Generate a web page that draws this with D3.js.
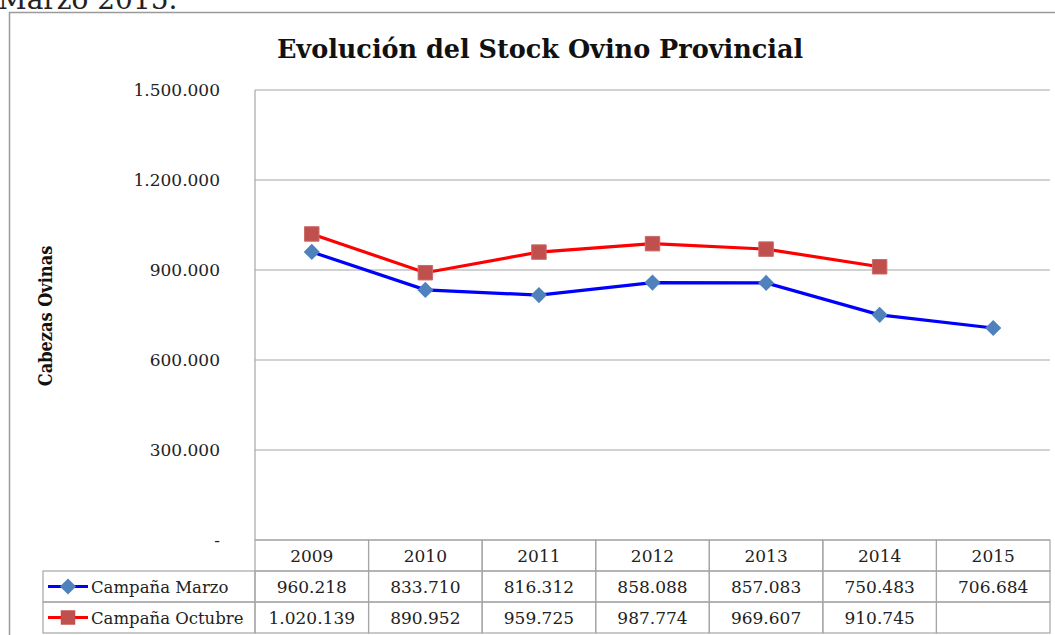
<!DOCTYPE html>
<html>
<head>
<meta charset="utf-8">
<script src="https://cdn.jsdelivr.net/npm/d3@7"></script>
<style>
  body { margin: 0; background: #fff; }
  svg { display: block; font-family: "DejaVu Serif", serif; }
</style>
</head>
<body>
<div id="chart"></div>
<script>
// data
var years = ["2009", "2010", "2011", "2012", "2013", "2014", "2015"]
var marzo = [960218, 833710, 816312, 858088, 857083, 750483, 706684]
var octubre = [1020139, 890952, 959725, 987774, 969607, 910745, null]
var seriesNames = ["Campaña Marzo", "Campaña Octubre"]
var yTicks = [0, 300000, 600000, 900000, 1200000, 1500000]

var width = 1055
var height = 635

var plotLeft = 255, plotRight = 1050, plotTop = 90, plotBottom = 540
var rowH = 31

var esFormat = d3.formatLocale({ decimal: ",", thousands: ".", grouping: [3], currency: ["$", ""] }).format(",.0f")
function fmt (v) { return v === 0 ? "-" : esFormat(v) }

var svg = d3.select('#chart').append('svg')
    .attr('width', width)
    .attr('height', height)

// caption from the page above, cut off at the top as in the source
svg.append('text')
    .attr('x', -2).attr('y', 9)
    .style('font-size', '28px')
    .attr('fill', '#222')
    .text('Marzo 2015.')

// outer chart border
svg.append('rect')
    .attr('x', 9.5).attr('y', 12.5)
    .attr('width', 1060).attr('height', 640)
    .attr('fill', 'none')
    .attr('stroke', '#9a9a9a')
    .attr('stroke-width', 1.5)

svg.append('text')
    .attr('x', 540).attr('y', 58)
    .attr('text-anchor', 'middle')
    .style('font-size', '25.5px')
    .style('font-weight', 'bold')
    .attr('fill', '#111')
    .text('Evolución del Stock Ovino Provincial')

var xScale = d3.scaleBand().domain(years).range([plotLeft, plotRight])
var yScale = d3.scaleLinear().domain([0, 1500000]).range([plotBottom, plotTop])

// grid
svg.append('g').selectAll('line')
    .data(yTicks)
    .enter().append('line')
    .attr('x1', plotLeft).attr('x2', plotRight)
    .attr('y1', d => yScale(d)).attr('y2', d => yScale(d))
    .attr('stroke', '#a6a6a6').attr('stroke-width', 1.2)

svg.append('line')
    .attr('x1', plotLeft).attr('x2', plotLeft)
    .attr('y1', plotTop).attr('y2', plotBottom)
    .attr('stroke', '#a6a6a6').attr('stroke-width', 1.2)

// y axis labels
svg.append('g').selectAll('text')
    .data(yTicks)
    .enter().append('text')
    .attr('x', 220)
    .attr('y', d => yScale(d) + 6)
    .attr('text-anchor', 'end')
    .style('font-size', '17px')
    .attr('fill', '#222')
    .text(fmt)

svg.append('text')
    .attr('transform', 'translate(52,316) rotate(-90)')
    .attr('text-anchor', 'middle')
    .style('font-size', '18px')
    .style('font-weight', 'bold')
    .style('font-family', '"DejaVu Serif Condensed", "DejaVu Serif", serif')
    .attr('fill', '#111')
    .text('Cabezas Ovinas')

// lines
var cx = d => xScale(d) + xScale.bandwidth() / 2
var line = d3.line()
    .defined(d => d.v != null)
    .x(d => cx(d.year))
    .y(d => yScale(d.v))

var marzoPts = years.map((y, i) => ({ year: y, v: marzo[i] }))
var octPts = years.map((y, i) => ({ year: y, v: octubre[i] })).filter(d => d.v != null)

svg.append('path').datum(octPts)
    .attr('d', line)
    .attr('fill', 'none').attr('stroke', '#ff0000').attr('stroke-width', 3.2)
svg.append('path').datum(marzoPts)
    .attr('d', line)
    .attr('fill', 'none').attr('stroke', '#0000ff').attr('stroke-width', 3.2)

var square = d3.symbol().type(d3.symbolSquare).size(210)
var diamond = d3.symbol().type(d3.symbolSquare).size(130)

svg.append('g').selectAll('path')
    .data(octPts).enter().append('path')
    .attr('d', square)
    .attr('transform', d => `translate(${cx(d.year)},${yScale(d.v)})`)
    .attr('fill', '#c0504d').attr('stroke', '#c96b68').attr('stroke-width', 1)

svg.append('g').selectAll('path')
    .data(marzoPts).enter().append('path')
    .attr('d', diamond)
    .attr('transform', d => `translate(${cx(d.year)},${yScale(d.v)}) rotate(45)`)
    .attr('fill', '#4f81bd')

// data table
var table = svg.append('g')
var gridColor = '#a6a6a6'
var legendLeft = 43

table.selectAll('.hcell')
    .data(years).enter().append('rect')
    .attr('x', d => xScale(d)).attr('y', plotBottom)
    .attr('width', xScale.bandwidth()).attr('height', rowH)
    .attr('fill', 'none').attr('stroke', gridColor).attr('stroke-width', 1.2)

table.selectAll('.htext')
    .data(years).enter().append('text')
    .attr('x', cx).attr('y', plotBottom + 22)
    .attr('text-anchor', 'middle')
    .style('font-size', '17px').attr('fill', '#222')
    .text(d => d)

var rows = [marzo, octubre]
rows.forEach(function (vals, r) {
    var y0 = plotBottom + rowH * (r + 1)
    table.append('rect')
        .attr('x', legendLeft).attr('y', y0)
        .attr('width', plotLeft - legendLeft).attr('height', rowH)
        .attr('fill', 'none').attr('stroke', gridColor).attr('stroke-width', 1.2)
    table.selectAll('.c' + r)
        .data(years).enter().append('rect')
        .attr('x', d => xScale(d)).attr('y', y0)
        .attr('width', xScale.bandwidth()).attr('height', rowH)
        .attr('fill', 'none').attr('stroke', gridColor).attr('stroke-width', 1.2)
    table.selectAll('.t' + r)
        .data(years).enter().append('text')
        .attr('x', cx).attr('y', y0 + 22)
        .attr('text-anchor', 'middle')
        .style('font-size', '17px').attr('fill', '#222')
        .text((d, i) => vals[i] == null ? '' : fmt(vals[i]))

    // legend key
    var ky = y0 + rowH / 2
    table.append('line')
        .attr('x1', legendLeft + 5).attr('x2', legendLeft + 45)
        .attr('y1', ky).attr('y2', ky)
        .attr('stroke', r === 0 ? '#0000ff' : '#ff0000').attr('stroke-width', 3.2)
    table.append('path')
        .attr('d', r === 0 ? diamond : square)
        .attr('transform', `translate(${legendLeft + 25},${ky})` + (r === 0 ? ' rotate(45)' : ''))
        .attr('fill', r === 0 ? '#4f81bd' : '#c0504d')
    table.append('text')
        .attr('x', legendLeft + 48).attr('y', y0 + 22)
        .style('font-size', '16.5px').attr('fill', '#222')
        .text(seriesNames[r])
})
</script>
</body>
</html>
